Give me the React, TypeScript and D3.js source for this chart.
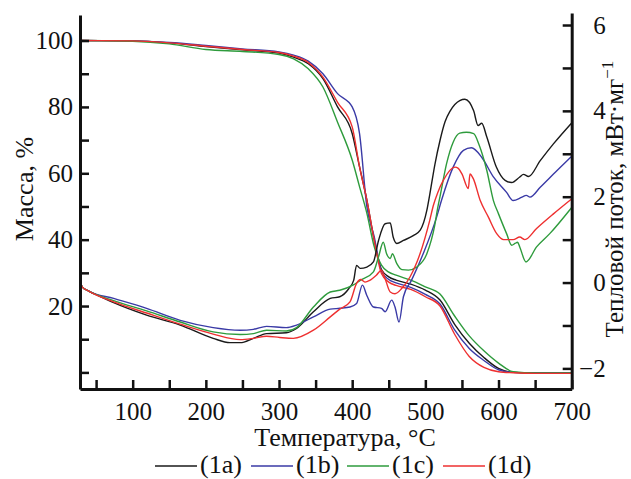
import React, { useEffect, useRef } from "react";
import * as d3 from "d3";

// TG: mass (%) on a shared temperature grid
const tgTemps = [28, 100, 150, 200, 250, 300, 320, 340, 360, 380, 400, 410, 420, 430, 440, 450, 460, 480, 500, 520, 540, 560, 580, 600, 620, 650, 700];
const tg1a = [100, 99.9, 99.3, 98.2, 97.2, 96.2, 95, 93, 88.5, 80, 72, 62, 52, 40, 31, 28.8, 27.8, 26.6, 24.8, 21.8, 14.5, 8.8, 4.5, 1.2, 0, -0.2, -0.2];
const tg1b = [100, 99.9, 99.4, 98.5, 97.5, 96.6, 95.6, 93.8, 90, 84, 80, 72, 50, 41, 30.5, 28, 27, 25.6, 23.5, 20.6, 12.8, 7.2, 3.6, 0.8, 0, -0.2, -0.2];
const tg1c = [100, 99.8, 99, 97.3, 96.7, 95.8, 94.5, 91.5, 86, 75.4, 64, 56, 48, 38, 32.3, 30.2, 29.3, 27.8, 25.8, 23.6, 17, 11, 6.5, 2.8, 0.2, -0.2, -0.2];
const tg1d = [100, 99.9, 99.3, 98.3, 97.3, 96.4, 95.3, 93.4, 89, 81.4, 74, 62, 52, 40, 29.8, 27.2, 26.2, 25, 22.8, 20, 11.5, 4.8, 1.5, 0.2, -0.1, -0.3, -0.3];

// DSC: heat flow (mW/mg), [temperature, value]
const dsc1a: [number, number][] = [
  [28, 0.05], [31, -0.1], [40, -0.2], [55, -0.32], [74, -0.47], [119, -0.76], [165, -0.99], [210, -1.3],
  [233, -1.4], [247, -1.4], [265, -1.3], [283, -1.19], [310, -1.17], [324, -1.07], [347, -0.68], [370, -0.37],
  [383, -0.33], [395, -0.15], [402, 0.05], [406, 0.4], [411, 0.33], [420, 0.36], [429, 0.48], [436, 0.98],
  [445, 1.37], [452, 1.39], [456, 1.06], [461, 0.91], [470, 0.98], [484, 1.1], [493, 1.22], [502, 1.68],
  [506, 2.05], [513, 2.75], [520, 3.31], [527, 3.75], [534, 4.0], [547, 4.24], [554, 4.27], [566, 4.0],
  [572, 3.66], [577, 3.71], [584, 3.39], [597, 2.69], [609, 2.38], [618, 2.33], [629, 2.46], [634, 2.52],
  [641, 2.47], [657, 2.84], [675, 3.23], [700, 3.72],
];
const dsc1b: [number, number][] = [
  [28, 0.05], [31, -0.1], [40, -0.2], [74, -0.37], [119, -0.6], [165, -0.88], [210, -1.05], [247, -1.11],
  [265, -1.09], [283, -1.02], [310, -1.05], [324, -0.99], [347, -0.8], [370, -0.62], [383, -0.6], [397, -0.57],
  [406, -0.49], [414, -0.06], [420, -0.3], [429, -0.57], [440, -0.6], [445, -0.68], [454, -0.41], [458.5, -0.57],
  [464, -0.92], [470, -0.33], [481, 0.05], [497, 0.67], [515.5, 1.53], [522, 1.91], [538, 2.69], [552, 3.08],
  [563, 3.14], [577, 2.92], [593, 2.46], [611, 2.1], [620, 1.91], [632, 1.99], [638, 2.03], [643, 1.99],
  [657, 2.22], [680, 2.61], [700, 2.94],
];
const dsc1c: [number, number][] = [
  [28, 0.05], [31, -0.1], [40, -0.2], [74, -0.42], [119, -0.66], [165, -0.92], [210, -1.15], [247, -1.21],
  [265, -1.19], [283, -1.11], [310, -1.13], [324, -1.05], [347, -0.57], [370, -0.22], [383, -0.18], [401, -0.06],
  [411, 0.05], [429, 0.25], [436, 0.6], [442.5, 0.94], [447, 0.67], [452, 0.56], [455, 0.67], [461, 0.44],
  [468, 0.3], [477, 0.29], [488, 0.36], [502, 0.67], [513, 1.35], [517, 1.75], [520, 2.0], [529, 2.77],
  [538, 3.27], [547, 3.48], [556, 3.5], [566, 3.47], [573, 3.23], [584, 2.61], [593, 1.91], [600, 1.6],
  [611, 1.14], [618, 0.87], [622.5, 0.91], [626, 0.94], [629, 0.83], [637.5, 0.48], [652, 0.83], [670, 1.14],
  [700, 1.75],
];
const dsc1d: [number, number][] = [
  [28, 0.05], [31, -0.1], [40, -0.2], [74, -0.45], [119, -0.71], [165, -0.97], [210, -1.2], [247, -1.33],
  [265, -1.3], [283, -1.25], [301, -1.28], [319.5, -1.3], [347, -1.11], [370, -0.8], [383, -0.62], [397, -0.45],
  [406, -0.02], [411.6, 0.07], [417.5, 0.01], [424, 0.05], [433, 0.17], [440, 0.29], [445, 0.09], [452, -0.22],
  [458.5, -0.26], [467.6, -0.14], [479, 0.13], [492.7, 0.67], [506, 1.45], [511, 1.8], [517, 2.1], [524.5, 2.38],
  [540.5, 2.69], [545, 2.66], [550, 2.53], [558.7, 2.19], [561, 2.53], [565.5, 2.42], [575, 1.91], [586, 1.53],
  [597.5, 1.14], [607, 1.0], [620, 1.0], [629, 1.06], [636, 1.0], [652, 1.26], [675, 1.6], [700, 1.95],
];

const seriesLabels = ["(1a)", "(1b)", "(1c)", "(1d)"];
const seriesColors = ["#1a1a1a", "#3a3aa6", "#2e9b3c", "#ee3030"];
const tgSeries = [tg1a, tg1b, tg1c, tg1d];
const dscSeries = [dsc1a, dsc1b, dsc1c, dsc1d];

const xTicks = d3.range(50, 701, 50);
const massTicks = d3.range(0, 101, 10);
const flowTicks = d3.range(-2, 7, 1);

const FONT = "'Liberation Serif', 'Times New Roman', serif";

export default function App() {
  const svgRef = useRef<SVGSVGElement>(null);

  useEffect(() => {
    const svg = d3.select(svgRef.current);
    svg.selectAll("*").remove();

    const x = d3.scaleLinear().domain([28, 700]).range([80, 571.7]);
    const yMass = d3.scaleLinear().domain([-5, 107.7]).range([389, 15]);
    const yFlow = d3.scaleLinear().domain([-2.48, 6.28]).range([389, 13]);

    const minus = (v: number) => (v < 0 ? "\u2212" + Math.abs(v) : String(v));

    // curves
    const tgLine = d3
      .line<number>()
      .x((_, i) => x(tgTemps[i]))
      .y((d) => yMass(d))
      .curve(d3.curveMonotoneX);
    const dscLine = d3
      .line<[number, number]>()
      .x((d) => x(d[0]))
      .y((d) => yFlow(d[1]))
      .curve(d3.curveMonotoneX);

    const curves = svg.append("g").attr("fill", "none").attr("stroke-width", 1.4);
    tgSeries.forEach((s, i) => {
      curves.append("path").attr("d", tgLine(s)).attr("stroke", seriesColors[i]);
    });
    dscSeries.forEach((s, i) => {
      curves.append("path").attr("d", dscLine(s)).attr("stroke", seriesColors[i]);
    });

    // axes
    const styleAxis = (g: any) => {
      g.attr("font-family", FONT).attr("font-size", 25);
      g.select(".domain").attr("stroke", "#111").attr("stroke-width", 3);
      g.selectAll(".tick line").attr("stroke", "#111").attr("stroke-width", 2.5);
      g.selectAll(".tick text").attr("fill", "#111");
    };

    svg
      .append("g")
      .attr("transform", "translate(80,0)")
      .call(
        d3
          .axisLeft(yMass)
          .tickValues(massTicks)
          .tickSize(-9)
          .tickSizeOuter(0)
          .tickPadding(7)
          .tickFormat((d: any) => (d > 0 && d % 20 === 0 ? String(d) : ""))
      )
      .call(styleAxis);

    const right = svg
      .append("g")
      .attr("transform", "translate(571.7,0)")
      .call(
        d3
          .axisRight(yFlow)
          .tickValues(flowTicks)
          .tickSize(-9)
          .tickSizeOuter(0)
          .tickFormat((d: any) => (d % 2 === 0 ? minus(d) : ""))
      )
      .call(styleAxis);
    right.selectAll(".tick text").attr("text-anchor", "end").attr("x", 34);

    svg
      .append("g")
      .attr("transform", "translate(0,389)")
      .call(
        d3
          .axisBottom(x)
          .tickValues(xTicks)
          .tickSize(-9)
          .tickSizeOuter(0)
          .tickPadding(13)
          .tickFormat((d: any) => (d % 100 === 0 ? String(d) : ""))
      )
      .call(styleAxis);

    // axis titles
    svg
      .append("text")
      .attr("x", 345)
      .attr("y", 446)
      .attr("text-anchor", "middle")
      .attr("font-family", FONT)
      .attr("font-size", 26)
      .attr("fill", "#111")
      .text("Температура, °C");

    svg
      .append("text")
      .attr("transform", "translate(33,189) rotate(-90)")
      .attr("text-anchor", "middle")
      .attr("font-family", FONT)
      .attr("font-size", 26)
      .attr("fill", "#111")
      .text("Масса, %");

    const rt = svg
      .append("text")
      .attr("transform", "translate(623,199) rotate(-90)")
      .attr("text-anchor", "middle")
      .attr("font-family", FONT)
      .attr("font-size", 25)
      .attr("fill", "#111");
    rt.append("tspan").text("Тепловой поток, мВт·мг");
    rt.append("tspan").attr("dy", -10).attr("font-size", 17).text("\u22121");

    // legend
    const legend = svg.append("g").attr("font-family", FONT).attr("font-size", 26);
    seriesLabels.forEach((label, i) => {
      const lx = 155 + i * 96;
      legend
        .append("line")
        .attr("x1", lx)
        .attr("x2", lx + 42)
        .attr("y1", 466)
        .attr("y2", 466)
        .attr("stroke", seriesColors[i])
        .attr("stroke-width", 1.4);
      legend
        .append("text")
        .attr("x", lx + 45)
        .attr("y", 473)
        .attr("fill", "#111")
        .text(label);
    });
  }, []);

  return (
    <svg
      ref={svgRef}
      width={631}
      height={479}
      style={{ position: "absolute", left: 0, top: 0, background: "#fff" }}
    />
  );
}
